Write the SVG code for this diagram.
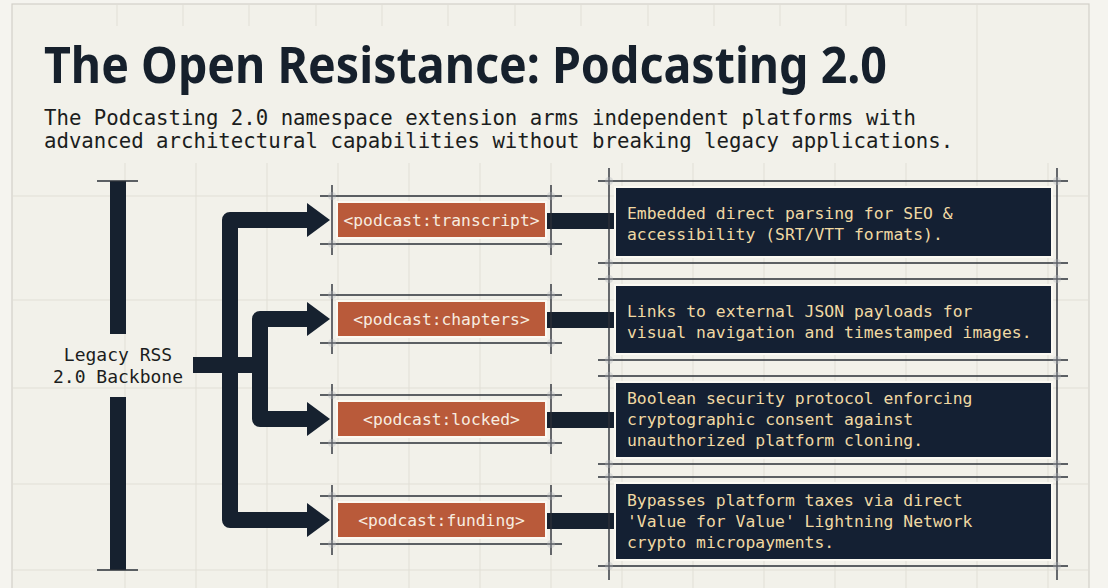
<svg xmlns="http://www.w3.org/2000/svg" width="1108" height="588" viewBox="0 0 1108 588">
<style>
.grid{stroke:#e1dfd6;stroke-width:1;fill:none}
.guide{stroke:#2b3038;stroke-width:1.4;fill:none}
.blob{fill:#aeb3b8;opacity:0.35}
.pipe{stroke:#16212f;stroke-width:16;fill:none;stroke-linejoin:round}
.head{fill:#16212f}
.tag{fill:#b95a3a;stroke:#fbf9f2;stroke-width:2}
.tagtxt{font-family:"DejaVu Sans Mono","Liberation Mono",monospace;font-size:16.3px;fill:#f7ede0;text-anchor:middle}
.desc{fill:#142033;stroke:#fbf9f2;stroke-width:2}
.desctxt{font-family:"DejaVu Sans Mono","Liberation Mono",monospace;font-size:16.4px;fill:#f0d9a3}
.bar{fill:#16212f}
.lbl{font-family:"DejaVu Sans Mono","Liberation Mono",monospace;font-size:18px;fill:#1b1d20;text-anchor:middle}
</style>
<rect x="0" y="0" width="1108" height="588" fill="#f5f4ef"/>
<rect x="12" y="4" width="1077" height="600" fill="#f2f1ea" stroke="#d2d0c8" stroke-width="1.2"/>
<g id="grid">
<path class="grid" d="M117 5V26M183 5V26M249 5V26M316 5V26M382 5V26M448 5V26M515 5V26M581 5V26M648 5V26M714 5V26M780 5V26M846 5V26M906 5V26M977 5V588"/>
<path class="grid" d="M125 163V588M196 163V588M267 163V588M338 163V588M409 163V588M480 163V588M551 163V588M622 163V588M693 163V588M764 163V588M835 163V588M906 163V588M1048 163V588"/>
<path class="grid" d="M13 196H1088M13 300H1088M13 388H1088M13 484H1088M13 570H1088"/>
</g>
<g id="title">
<text x="44" y="83" font-family="'Noto Sans','Inter','Liberation Sans',sans-serif" font-weight="700" font-size="50" fill="#16202c" textLength="843" lengthAdjust="spacingAndGlyphs">The Open Resistance: Podcasting 2.0</text>
<text x="44" y="125" font-family="'DejaVu Sans Mono','Liberation Mono',monospace" font-size="20.7" fill="#1b1d20">The Podcasting 2.0 namespace extension arms independent platforms with</text>
<text x="44" y="148" font-family="'DejaVu Sans Mono','Liberation Mono',monospace" font-size="20.7" fill="#1b1d20">advanced architectural capabilities without breaking legacy applications.</text>
</g>
<g id="backbone">
<rect class="bar" x="110" y="181" width="16" height="153"/>
<rect class="bar" x="110" y="397" width="16" height="173"/>
<path class="guide" d="M97 181H138M97 570H138"/>
<text class="lbl" x="118" y="361">Legacy RSS</text>
<text class="lbl" x="118" y="383">2.0 Backbone</text>
</g>
<g id="connectors">
<path class="pipe" d="M193 365H268"/>
<path class="pipe" d="M310 220H230V520H310"/>
<path class="pipe" d="M310 319H260V419H310"/>
<polygon class="head" points="307,203 330,220 307,237"/>
<polygon class="head" points="307,302 330,319 307,336"/>
<polygon class="head" points="307,402 330,419 307,436"/>
<polygon class="head" points="307,503 330,520 307,537"/>
<rect class="bar" x="546" y="213" width="70" height="16"/>
<rect class="bar" x="546" y="312" width="70" height="16"/>
<rect class="bar" x="546" y="412" width="70" height="16"/>
<rect class="bar" x="546" y="513" width="70" height="16"/>
</g>
<g id="tag-transcript">
<rect class="tag" x="337" y="202" width="209" height="36"/>
<path class="guide" d="M320 196H562M320 244H562M332 185V255M551 185V255"/>
<circle class="blob" cx="332" cy="196" r="4"/><circle class="blob" cx="551" cy="196" r="4"/><circle class="blob" cx="332" cy="244" r="4"/><circle class="blob" cx="551" cy="244" r="4"/>
<text class="tagtxt" x="441.5" y="226">&lt;podcast:transcript&gt;</text>
</g>
<g id="tag-chapters">
<rect class="tag" x="337" y="301" width="209" height="36"/>
<path class="guide" d="M320 295H562M320 343H562M332 284V354M551 284V354"/>
<circle class="blob" cx="332" cy="295" r="4"/><circle class="blob" cx="551" cy="295" r="4"/><circle class="blob" cx="332" cy="343" r="4"/><circle class="blob" cx="551" cy="343" r="4"/>
<text class="tagtxt" x="441.5" y="325">&lt;podcast:chapters&gt;</text>
</g>
<g id="tag-locked">
<rect class="tag" x="337" y="401" width="209" height="36"/>
<path class="guide" d="M320 395H562M320 443H562M332 384V454M551 384V454"/>
<circle class="blob" cx="332" cy="395" r="4"/><circle class="blob" cx="551" cy="395" r="4"/><circle class="blob" cx="332" cy="443" r="4"/><circle class="blob" cx="551" cy="443" r="4"/>
<text class="tagtxt" x="441.5" y="425">&lt;podcast:locked&gt;</text>
</g>
<g id="tag-funding">
<rect class="tag" x="337" y="502" width="209" height="36"/>
<path class="guide" d="M320 496H562M320 544H562M332 485V555M551 485V555"/>
<circle class="blob" cx="332" cy="496" r="4"/><circle class="blob" cx="551" cy="496" r="4"/><circle class="blob" cx="332" cy="544" r="4"/><circle class="blob" cx="551" cy="544" r="4"/>
<text class="tagtxt" x="441.5" y="526">&lt;podcast:funding&gt;</text>
</g>
<g id="desc-guides">
<path class="guide" d="M609 168V580M1057 168V580"/>
</g>
<g id="desc-transcript">
<rect class="desc" x="615" y="187" width="437" height="70"/>
<path class="guide" d="M598 181H1068M598 263H1068"/>
<circle class="blob" cx="609" cy="181" r="4"/><circle class="blob" cx="1057" cy="181" r="4"/><circle class="blob" cx="609" cy="263" r="4"/><circle class="blob" cx="1057" cy="263" r="4"/>
<text class="desctxt" x="627" y="219">Embedded direct parsing for SEO &amp;</text>
<text class="desctxt" x="627" y="240">accessibility (SRT/VTT formats).</text>
</g>
<g id="desc-chapters">
<rect class="desc" x="615" y="285" width="437" height="69"/>
<path class="guide" d="M598 279H1068M598 360H1068"/>
<circle class="blob" cx="609" cy="279" r="4"/><circle class="blob" cx="1057" cy="279" r="4"/><circle class="blob" cx="609" cy="360" r="4"/><circle class="blob" cx="1057" cy="360" r="4"/>
<text class="desctxt" x="627" y="317">Links to external JSON payloads for</text>
<text class="desctxt" x="627" y="338">visual navigation and timestamped images.</text>
</g>
<g id="desc-locked">
<rect class="desc" x="615" y="382" width="437" height="76"/>
<path class="guide" d="M598 376H1068M598 464H1068"/>
<circle class="blob" cx="609" cy="376" r="4"/><circle class="blob" cx="1057" cy="376" r="4"/><circle class="blob" cx="609" cy="464" r="4"/><circle class="blob" cx="1057" cy="464" r="4"/>
<text class="desctxt" x="627" y="404">Boolean security protocol enforcing</text>
<text class="desctxt" x="627" y="425">cryptographic consent against</text>
<text class="desctxt" x="627" y="446">unauthorized platform cloning.</text>
</g>
<g id="desc-funding">
<rect class="desc" x="615" y="483" width="437" height="77"/>
<path class="guide" d="M598 477H1068M598 566H1068"/>
<circle class="blob" cx="609" cy="477" r="4"/><circle class="blob" cx="1057" cy="477" r="4"/><circle class="blob" cx="609" cy="566" r="4"/><circle class="blob" cx="1057" cy="566" r="4"/>
<text class="desctxt" x="627" y="506">Bypasses platform taxes via direct</text>
<text class="desctxt" x="627" y="527">'Value for Value' Lightning Network</text>
<text class="desctxt" x="627" y="548">crypto micropayments.</text>
</g>
</svg>
